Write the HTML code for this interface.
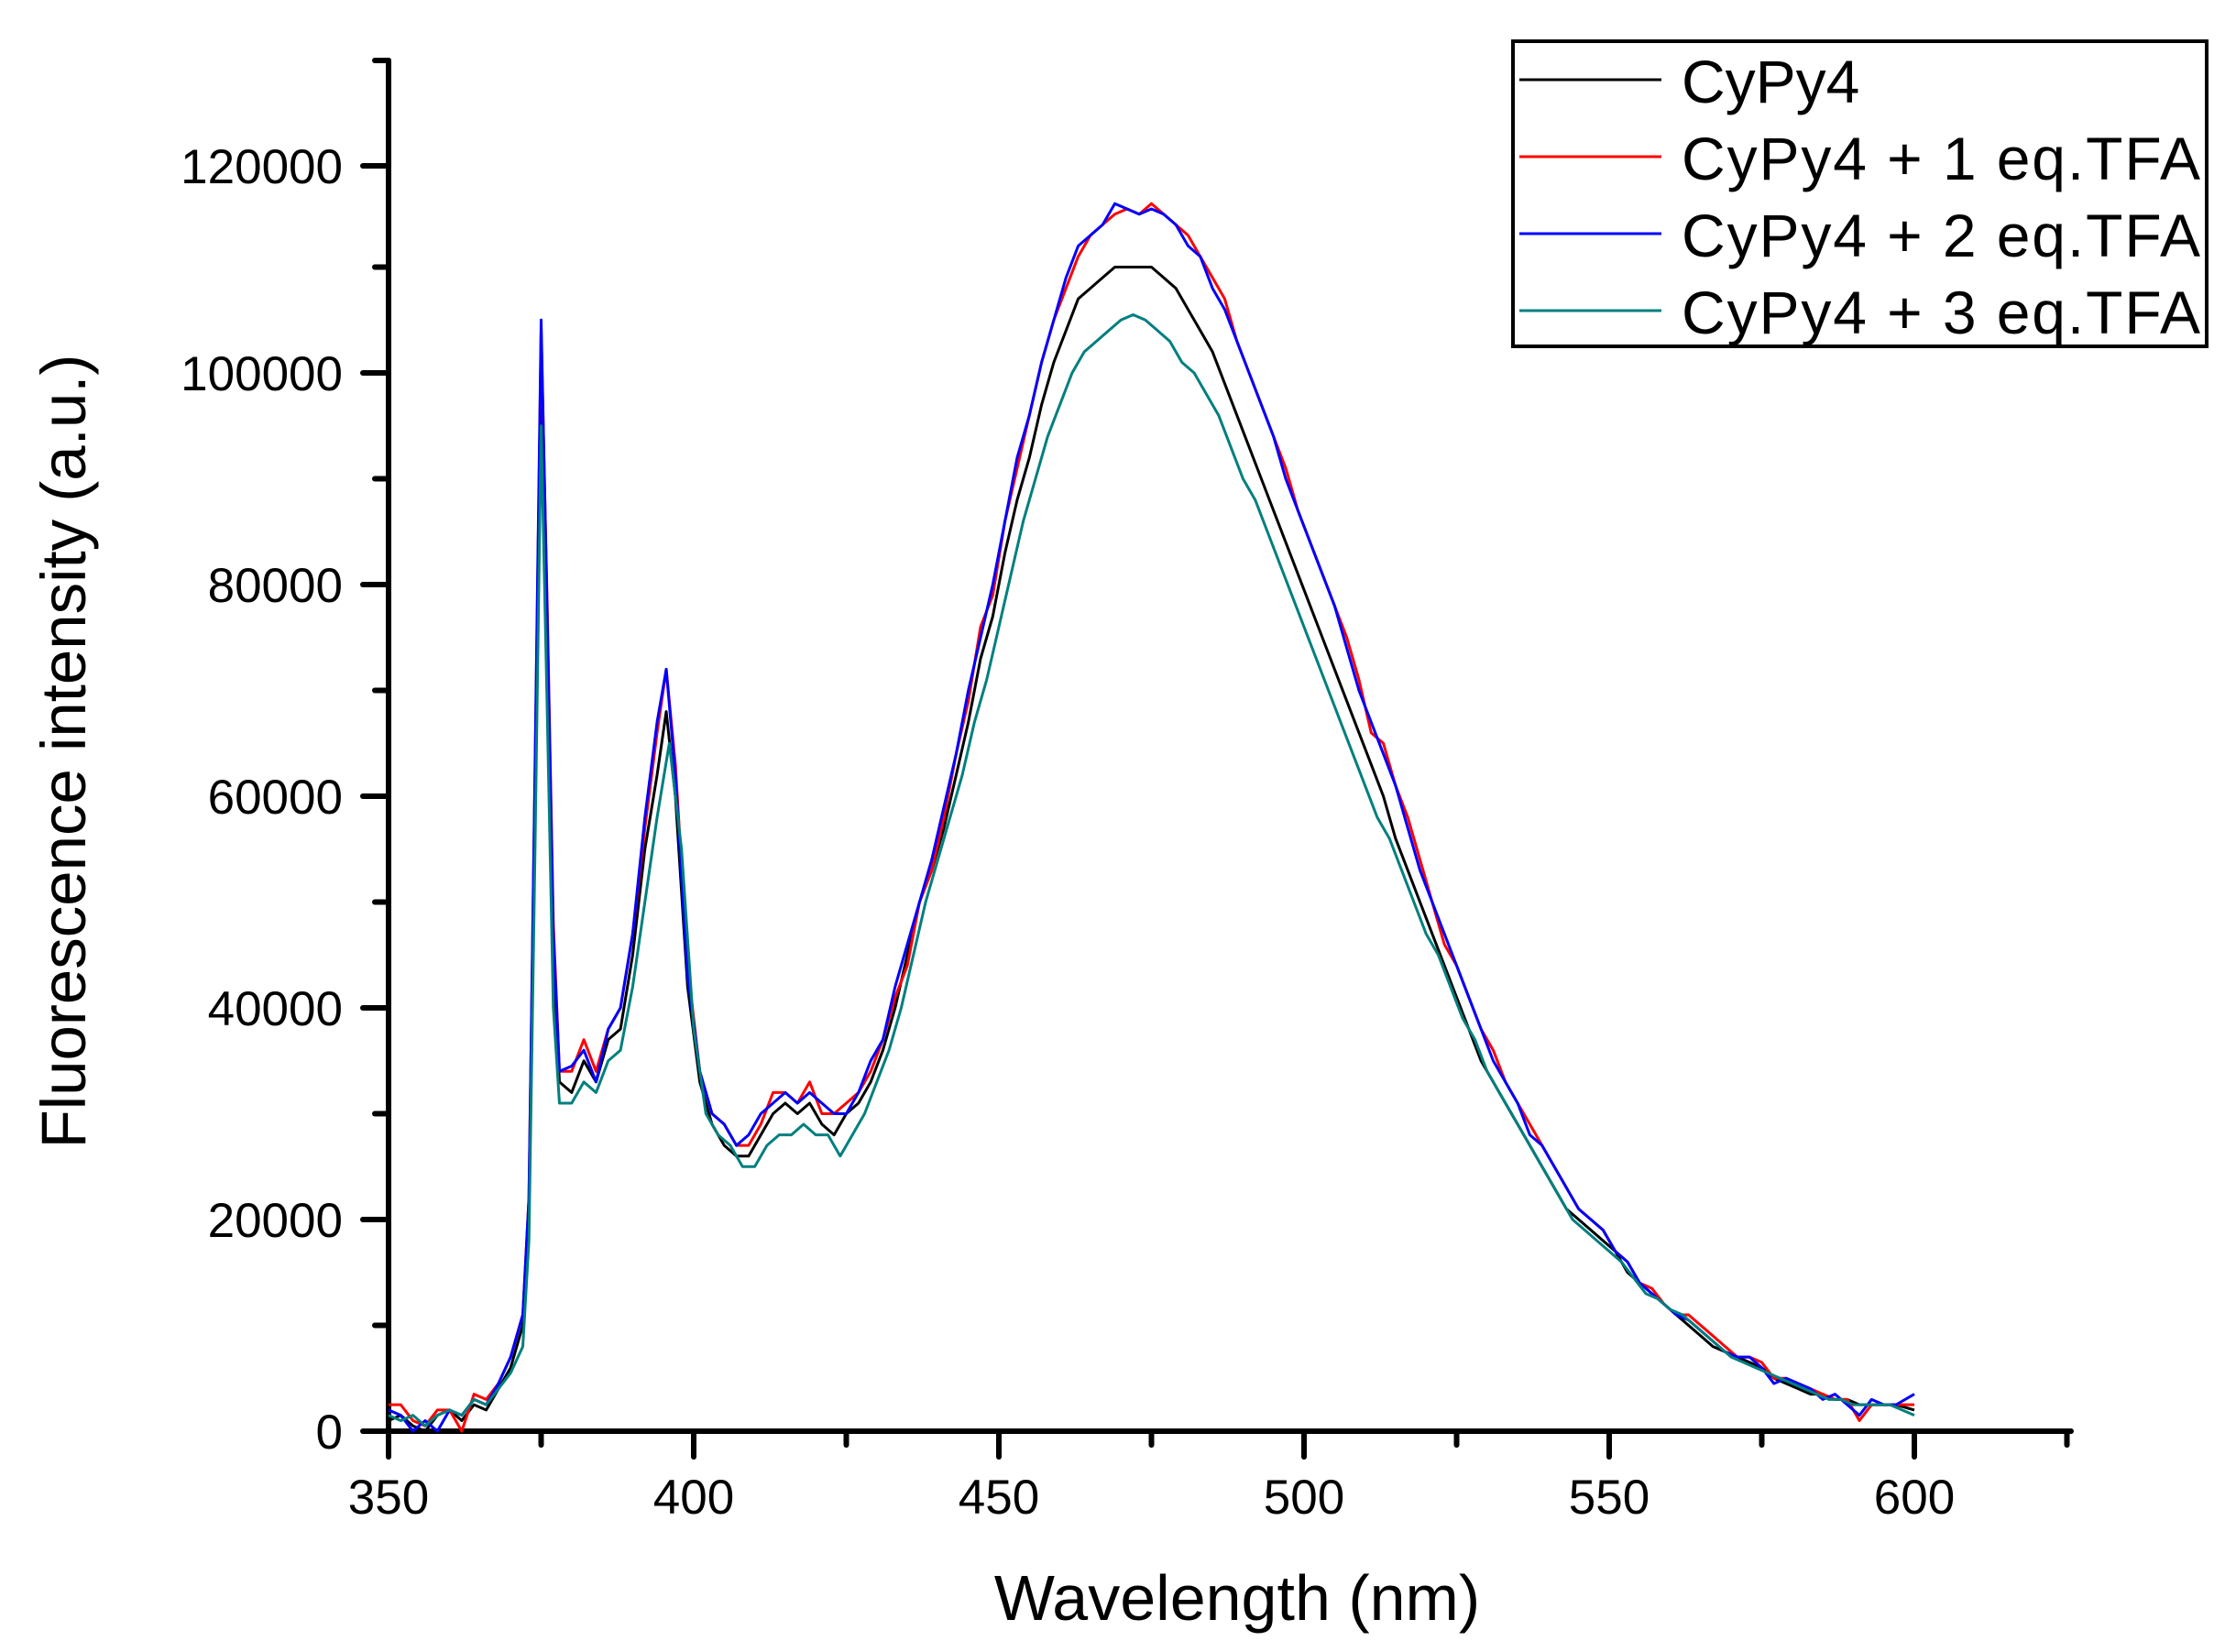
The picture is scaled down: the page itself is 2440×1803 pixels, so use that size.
<!DOCTYPE html>
<html><head><style>
html,body{margin:0;padding:0;background:#fff;}
svg{display:block;}
text{font-family:"Liberation Sans",sans-serif;fill:#000;}
</style></head><body>
<svg width="2440" height="1803" viewBox="0 0 2440 1803" xmlns="http://www.w3.org/2000/svg">
<g stroke="#000" stroke-width="6" stroke-linecap="round" fill="none">
<line x1="424" y1="66" x2="424" y2="1562"/>
<line x1="424" y1="1562" x2="2260" y2="1562"/>
<line x1="424" y1="1562" x2="424" y2="1590"/>
<line x1="590.5" y1="1562" x2="590.5" y2="1577"/>
<line x1="757" y1="1562" x2="757" y2="1590"/>
<line x1="923.5" y1="1562" x2="923.5" y2="1577"/>
<line x1="1090" y1="1562" x2="1090" y2="1590"/>
<line x1="1256.5" y1="1562" x2="1256.5" y2="1577"/>
<line x1="1423" y1="1562" x2="1423" y2="1590"/>
<line x1="1589.5" y1="1562" x2="1589.5" y2="1577"/>
<line x1="1756" y1="1562" x2="1756" y2="1590"/>
<line x1="1922.5" y1="1562" x2="1922.5" y2="1577"/>
<line x1="2089" y1="1562" x2="2089" y2="1590"/>
<line x1="2255.5" y1="1562" x2="2255.5" y2="1577"/>
<line x1="396" y1="1562" x2="424" y2="1562"/>
<line x1="409" y1="1446.5" x2="424" y2="1446.5"/>
<line x1="396" y1="1331" x2="424" y2="1331"/>
<line x1="409" y1="1215.5" x2="424" y2="1215.5"/>
<line x1="396" y1="1100" x2="424" y2="1100"/>
<line x1="409" y1="984.5" x2="424" y2="984.5"/>
<line x1="396" y1="869" x2="424" y2="869"/>
<line x1="409" y1="753.5" x2="424" y2="753.5"/>
<line x1="396" y1="638" x2="424" y2="638"/>
<line x1="409" y1="522.5" x2="424" y2="522.5"/>
<line x1="396" y1="407" x2="424" y2="407"/>
<line x1="409" y1="291.5" x2="424" y2="291.5"/>
<line x1="396" y1="181" x2="424" y2="181"/>
<line x1="409" y1="66" x2="424" y2="66"/>
</g>
<g font-size="53" text-anchor="end">
<text x="374" y="1581">0</text>
<text x="374" y="1350">20000</text>
<text x="374" y="1119">40000</text>
<text x="374" y="888">60000</text>
<text x="374" y="657">80000</text>
<text x="374" y="426">100000</text>
<text x="374" y="200">120000</text>
</g>
<g font-size="53" text-anchor="middle">
<text x="424" y="1652">350</text>
<text x="757" y="1652">400</text>
<text x="1090" y="1652">450</text>
<text x="1423" y="1652">500</text>
<text x="1756" y="1652">550</text>
<text x="2089" y="1652">600</text>
</g>
<text x="1350" y="1768" font-size="70" text-anchor="middle">Wavelength (nm)</text>
<text transform="translate(93,820) rotate(-90)" font-size="69" text-anchor="middle">Fluorescence intensity (a.u.)</text>

<g transform="translate(424,1562) scale(6.66,-11.55)" fill="none" stroke-width="3" stroke-linejoin="round">
<polyline vector-effect="non-scaling-stroke" stroke="#000" points="0,1 2,1.5 4,0.5 6,0 8,1.5 10,2 12,1 14,2.5 16,2 18,4 20,6 22,10 23,20 24,60 25,100 26,75 27,45 28,33 30,32 32,35 34,33 36,37 38,38 40,45 42,55 44,62 45.5,68 47,60 49,42 51,33 53,29 55,27 57,26 59,26 61,28 63,30 65,31 67,30 69,31 71,29 73,28 75,30 77,31 79,33 81,36 83,40 85,45 87,50 89,53 91,57 93,62 95,67 97,73 99,77 101,83 103,88 105,92 107,97 109,101 111,104 113,107 115,108 117,109 119,110 121,110 123,110 125,110 127,109 129,108 131,106 133,104 135,102 137,99 139,96 141,93 143,90 145,87 147,84 149,81 151,78 153,75 155,72 157,69 159,66 161,63 163,60 165,56 167,53 169,50 171,47 173,44 175,41 177,38 179,35 181,33 183,31 185,29 187,27 189,25 191,23 193,21 195,20 197,19 199,18 201,17 203,15 205,14 207,13 209,12 211,11 213,10 215,9 217,8 219,7.5 221,7 223,6.5 225,6 227,5 229,4.5 231,4 233,3.5 235,3.5 237,3 239,3 241,2.5 243,2.5 245,2.5 247,2.5 250,2"/>
<polyline vector-effect="non-scaling-stroke" stroke="#ff0000" points="0,2.5 2,2.5 4,1 6,0.5 8,2 10,2 12,0 14,3.5 16,3 18,4.5 20,7 22,11 23,22 24,62 25,104 26,78 27,48 28,34 30,34 32,37 34,34 36,38 38,40 40,47 42,57 44,66 45.5,72 47,63 49,44 51,34 53,30 55,29 57,27 59,27 61,29 63,32 65,32 67,31 69,33 71,30 73,30 75,31 77,32 79,34 81,37 83,41 85,44 87,50 89,53 91,58 93,64 95,69 97,76 99,79 101,86 103,91 105,96 107,101 109,105 111,108 113,111 115,113 117,114 119,115 121,115.5 123,115 125,116 127,115 129,114 131,113 133,111 135,109 137,107 139,103 141,100 143,97 145,94 147,91 149,87 151,84 153,81 155,78 157,75 159,71 161,66 163,65 165,61 167,58 169,54 171,50 173,46 175,44 177,41 179,38 181,36 183,33 185,31 187,29 189,27 191,25 193,23 195,21 197,20 199,19 201,17 203,16 205,14 207,13.5 209,12 211,11 213,11 215,10 217,9 219,8 221,7 223,7 225,6.5 227,5 229,5 231,4.5 233,4 235,3.5 237,3 239,3 241,1 243,2.5 245,2.5 247,2.5 250,2.5"/>
<polyline vector-effect="non-scaling-stroke" stroke="#0000ff" points="0,2 2,1.5 4,0 6,1 8,0 10,2 12,1.5 14,3 16,2.5 18,4.5 20,7 22,11 23,22 24,63 25,105 26,77 27,47 28,34 30,34.5 32,36 34,33 36,38 38,40 40,47 42,58 44,67 45.5,72 47,62 49,43 51,34 53,30 55,29 57,27 59,28 61,30 63,31 65,32 67,31 69,32 71,31 73,30 75,30 77,32 79,35 81,37 83,42 85,46 87,50 89,54 91,59 93,64 95,70 97,75 99,80 101,86 103,92 105,96 107,101 109,105 111,109 113,112 115,113 117,114 119,116 121,115.5 123,115 125,115.5 127,115 129,114 131,112 133,111 135,108 137,106 139,103 141,100 143,97 145,94 147,90 149,87 151,84 153,81 155,78 157,74 159,70 161,67 163,64 165,61 167,57 169,53 171,50 173,47 175,44 177,41 179,38 181,35 183,33 185,31 187,28 189,27 191,25 193,23 195,21 197,20 199,19 201,17 203,16 205,14 207,13 209,12 211,11 213,10.5 215,9.5 217,8.5 219,7.5 221,7 223,7 225,6 227,4.5 229,5 231,4.5 233,4 235,3 237,3.5 239,2.5 241,1.5 243,3 245,2.5 247,2.5 250,3.5"/>
<polyline vector-effect="non-scaling-stroke" stroke="#007f7f" points="0,1.5 2,1 4,1.5 6,0.5 8,1.5 10,2 12,1.5 14,3 16,2.5 18,4 20,5.5 22,8 23,18 24,55 25,95 26,68 27,40 28,31 30,31 32,33 34,32 36,35 38,36 40,42 42,50 44,58 46,65 48,55 50,38 52,30 54,28 56,27 58,25 60,25 62,27 64,28 66,28 68,29 70,28 72,28 74,26 76,28 78,30 80,33 82,36 84,40 86,45 88,50 90,54 92,58 94,62 96,67 98,71 100,76 102,81 104,86 106,90 108,94 110,97 112,100 114,102 116,103 118,104 120,105 122,105.5 124,105 126,104 128,103 130,101 132,100 134,98 136,96 138,93 140,90 142,88 144,85 146,82 148,79 150,76 152,73 154,70 156,67 158,64 160,61 162,58 164,56 166,53 168,50 170,47 172,45 174,42 176,39 178,37 180,34 182,32 184,30 186,28 188,26 190,24 192,22 194,20 196,19 198,18 200,17 202,16 204,14.5 206,13 208,12.5 210,11.5 212,11 214,10 216,9 218,8 220,7 222,6.5 224,6 226,5.5 228,5 230,4.5 232,4 234,3.5 236,3 238,3 240,2.5 242,2.5 244,2.5 246,2.5 248,2 250,1.5"/>
</g>

<rect x="1651" y="45" width="757" height="333" fill="none" stroke="#000" stroke-width="4"/>
<g stroke-width="3">
<line x1="1658" y1="87" x2="1813" y2="87" stroke="#000"/>
<line x1="1658" y1="171" x2="1813" y2="171" stroke="#ff0000"/>
<line x1="1658" y1="255" x2="1813" y2="255" stroke="#0000ff"/>
<line x1="1658" y1="339" x2="1813" y2="339" stroke="#007f7f"/>
</g>
<g font-size="66">
<text x="1835" y="112">CyPy4</text>
<text x="1835" y="196" textLength="566" lengthAdjust="spacing">CyPy4 + 1 eq.TFA</text>
<text x="1835" y="280" textLength="566" lengthAdjust="spacing">CyPy4 + 2 eq.TFA</text>
<text x="1835" y="364" textLength="566" lengthAdjust="spacing">CyPy4 + 3 eq.TFA</text>
</g>
</svg>
</body></html>
